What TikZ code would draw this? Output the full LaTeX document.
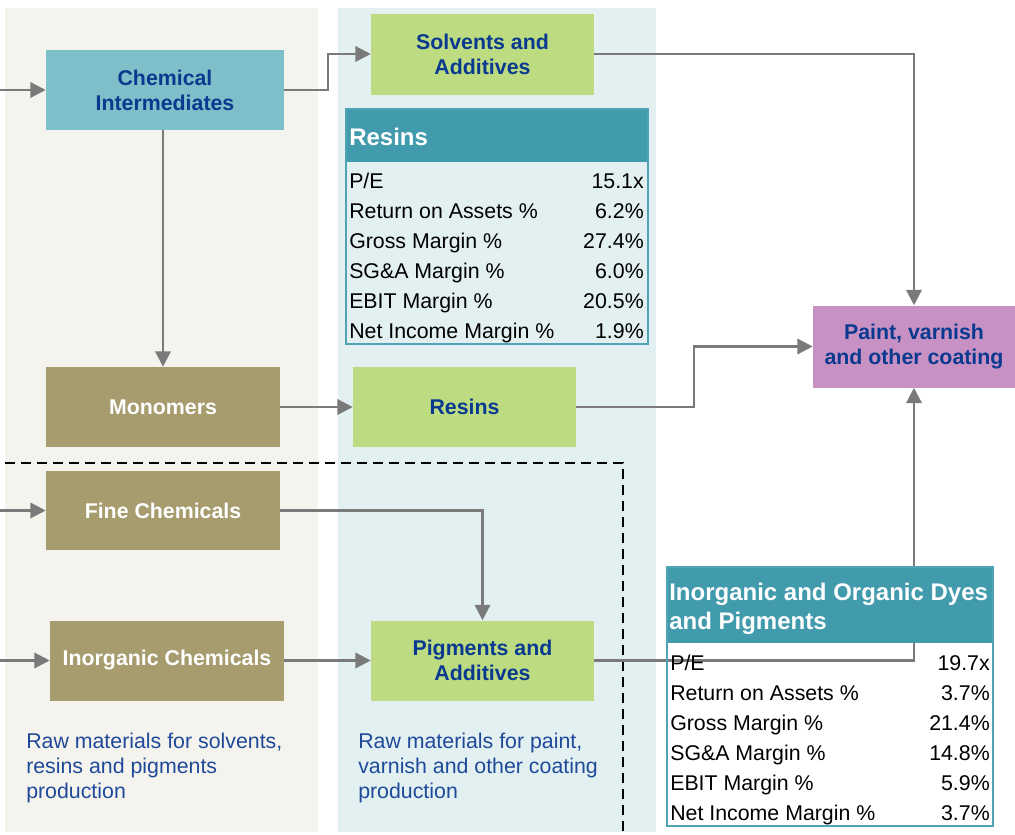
\documentclass[tikz,border=0pt]{standalone}
\usepackage{fontspec}
\setmainfont{Liberation Sans}
\usetikzlibrary{arrows.meta}
\definecolor{beige}{HTML}{F4F3EE}
\definecolor{lblue}{HTML}{E2F0F1}
\definecolor{chemc}{HTML}{7FBFC9}
\definecolor{greenb}{HTML}{BDDB81}
\definecolor{olive}{HTML}{A69C6E}
\definecolor{paintc}{HTML}{C891C4}
\definecolor{headc}{HTML}{419BAD}
\definecolor{bordc}{HTML}{4FA5B6}
\definecolor{navy}{HTML}{0A3A8F}
\definecolor{arrowc}{HTML}{7A7A7A}
\definecolor{rawc}{HTML}{1F4A9A}
\tikzset{
  bx/.style 2 args={draw=none, inner sep=0pt, align=center, minimum width=#1*0.75pt, minimum height=#2*0.75pt,
    font=\bfseries\fontsize{16}{18.75}\selectfont},
  bluebox/.style={fill=greenb, text=navy},
  chembox/.style={fill=chemc, text=navy},
  olivebox/.style={fill=olive, text=white},
  paintbox/.style={fill=paintc, text=navy},
  arr/.style={draw=arrowc, line width=1.75pt, -{Triangle[length=11.5pt,width=11.5pt]}},
  rowl/.style={anchor=base west, inner sep=0pt, font=\fontsize{16}{18}\selectfont, text=black},
  rowv/.style={anchor=base east, inner sep=0pt, font=\fontsize{16}{18}\selectfont, text=black},
  headtxt/.style={anchor=west, inner sep=0pt, align=left, text=white, font=\bfseries\fontsize{18}{21.75}\selectfont},
  rawtxt/.style={anchor=north west, inner sep=0pt, align=left, text=rawc, font=\fontsize{16}{18.75}\selectfont},
  dashline/.style={draw=black, line width=1.5pt, dash pattern=on 7.5pt off 4.5pt},
  tabborder/.style={draw=bordc, line width=1pt},
}
\begin{document}
\begin{tikzpicture}[x=0.75pt,y=-0.75pt]
\useasboundingbox (0,0) rectangle (1015,835);
% panels
\fill[beige] (5,8) rectangle (318,832);
\fill[lblue] (338,8) rectangle (656,832);
% dashed boundary
\draw[dashline] (5,463) -- (623,463) -- (623,835);
% boxes
\node[bx={238}{80}, chembox] (ci) at (165,90) {Chemical\\Intermediates};
\node[bx={223}{81}, bluebox] (solv) at (482.5,54) {Solvents and\\Additives};
\node[bx={234}{80}, olivebox] (mono) at (163,407) {Monomers};
\node[bx={223}{80}, bluebox] (res) at (464.5,407) {Resins};
\node[bx={202}{82}, paintbox] (paint) at (914,346.5) {Paint, varnish\\and other coating};
\node[bx={234}{79}, olivebox] (fine) at (163,510.5) {Fine Chemicals};
\node[bx={234}{80}, olivebox] (inorg) at (167,660.5) {Inorganic Chemicals};
\node[bx={223}{80}, bluebox] (pig) at (482.5,660.5) {Pigments and\\Additives};
% inputs
\coordinate (in1) at (0,90);
\coordinate (in2) at (0,510.5);
\coordinate (in3) at (0,660.5);
% connectors
\draw[arr] (in1) -- (ci.west);
\draw[arr] (in2) -- (fine.west);
\draw[arr] (in3) -- (inorg.west);
\draw[arr] (ci.east) -- ++(44,0) |- (solv.west);
\draw[arr] (ci.south -| mono.north) -- (mono.north);
\draw[arr] (solv.east) -| (paint.north);
\draw[arr] (mono.east) -- (res.west);
\draw[arr] (res.east) -- ++(118,0) |- (paint.west);
\draw[arr] (fine.east) -| (pig.north);
\draw[arr] (inorg.east) -- (pig.west);
\draw[arr] (pig.east) -| (paint.south);
% Resins table
\node[fill=headc, inner sep=0pt, minimum width=302*0.75pt, minimum height=53*0.75pt] (rth) at (497,135.5) {};
\draw[tabborder] (346,109) rectangle (648,344);
\node[headtxt] (rtt) at (349,137) {Resins};
\node[rowl] (r1l) at (349,188) {P/E};            \node[rowv] (r1v) at (644,188) {15.1x};
\node[rowl] (r2l) at (349,218) {Return on Assets \%}; \node[rowv] (r2v) at (644,218) {6.2\%};
\node[rowl] (r3l) at (349,248) {Gross Margin \%};   \node[rowv] (r3v) at (644,248) {27.4\%};
\node[rowl] (r4l) at (349,278) {SG\&A Margin \%};   \node[rowv] (r4v) at (644,278) {6.0\%};
\node[rowl] (r5l) at (349,308) {EBIT Margin \%};    \node[rowv] (r5v) at (644,308) {20.5\%};
\node[rowl] (r6l) at (349,338) {Net Income Margin \%}; \node[rowv] (r6v) at (644,338) {1.9\%};
% Inorganic table
\node[fill=headc, inner sep=0pt, minimum width=326*0.75pt, minimum height=76*0.75pt] (ith) at (830,605) {};
\draw[tabborder] (667,567) rectangle (993,826);
\node[headtxt] (itt) at (669,608.5) {Inorganic and Organic Dyes\\and Pigments};
\node[rowl] (i1l) at (670,670) {P/E};            \node[rowv] (i1v) at (990,670) {19.7x};
\node[rowl] (i2l) at (670,700) {Return on Assets \%}; \node[rowv] (i2v) at (990,700) {3.7\%};
\node[rowl] (i3l) at (670,730) {Gross Margin \%};   \node[rowv] (i3v) at (990,730) {21.4\%};
\node[rowl] (i4l) at (670,760) {SG\&A Margin \%};   \node[rowv] (i4v) at (990,760) {14.8\%};
\node[rowl] (i5l) at (670,790) {EBIT Margin \%};    \node[rowv] (i5v) at (990,790) {5.9\%};
\node[rowl] (i6l) at (670,820) {Net Income Margin \%}; \node[rowv] (i6v) at (990,820) {3.7\%};
% captions
\node[rawtxt] (cap1) at (26,733) {Raw materials for solvents,\\resins and pigments\\production};
\node[rawtxt] (cap2) at (358,733) {Raw materials for paint,\\varnish and other coating\\production};
\end{tikzpicture}
\end{document}
